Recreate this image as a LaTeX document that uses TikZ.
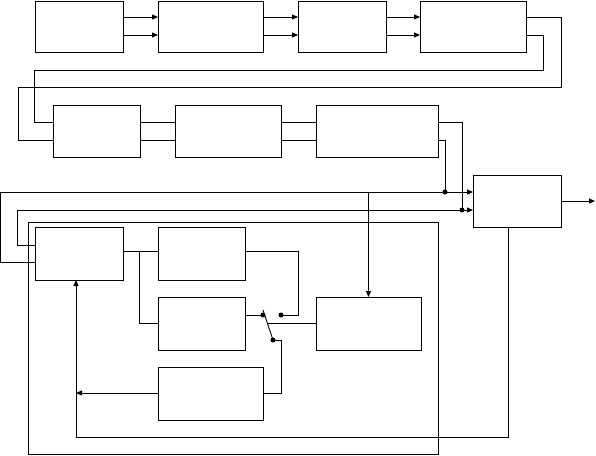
\documentclass[tikz,border=0pt]{standalone}
\usetikzlibrary{arrows.meta}
\begin{document}
\begin{tikzpicture}[x=1pt,y=1pt,line width=0.9pt,
  blk/.style={draw,inner sep=0pt,outer sep=0pt},
  arr/.style={-{Triangle[length=6pt,width=5pt]}},
  jdot/.style={circle,fill,inner sep=0pt,minimum size=5pt}]
\useasboundingbox (0,0) rectangle (596,-455);
% boxes (center, size)
\node[blk,minimum width=88pt,minimum height=51pt] (b1) at (79,-26.5) {};
\node[blk,minimum width=105pt,minimum height=51pt] (b2) at (210.5,-26.5) {};
\node[blk,minimum width=88pt,minimum height=51pt] (b3) at (342,-26.5) {};
\node[blk,minimum width=106pt,minimum height=51pt] (b4) at (473,-26.5) {};
\node[blk,minimum width=87pt,minimum height=52pt] (b5) at (96.5,-131) {};
\node[blk,minimum width=106pt,minimum height=52pt] (b6) at (228,-131) {};
\node[blk,minimum width=122pt,minimum height=52pt] (b7) at (377,-131) {};
\node[blk,minimum width=88pt,minimum height=52pt] (b8) at (517,-201) {};
\node[blk,minimum width=88pt,minimum height=53pt] (b9) at (79,-253.5) {};
\node[blk,minimum width=87pt,minimum height=53pt] (b10) at (201.5,-253.5) {};
\node[blk,minimum width=87pt,minimum height=53pt] (b11) at (201.5,-323.5) {};
\node[blk,minimum width=105pt,minimum height=53pt] (b12) at (368.5,-323.5) {};
\node[blk,minimum width=105pt,minimum height=53pt] (b13) at (210.5,-393.5) {};
% frame
\draw (28,-222) rectangle (438,-454);
% top row
\foreach \a/\b in {b1/b2,b2/b3,b3/b4}{
  \draw[arr] (\a.east |- 0,-17) -- (\b.west |- 0,-17);
  \draw[arr] (\a.east |- 0,-35) -- (\b.west |- 0,-35);
}
% b4 -> b5
\draw (b4.east |- 0,-17) -- (561,-17) -- (561,-87) -- (18,-87) -- (18,-140) -- (b5.west |- 0,-140);
\draw (b4.east |- 0,-35) -- (543,-35) -- (543,-70) -- (34,-70) -- (34,-122) -- (b5.west |- 0,-122);
% row 2
\foreach \a/\b in {b5/b6,b6/b7}{
  \draw (\a.east |- 0,-122) -- (\b.west |- 0,-122);
  \draw (\a.east |- 0,-140) -- (\b.west |- 0,-140);
}
\coordinate (j1) at (445,-192);
\coordinate (j2) at (462,-210);
\draw (b7.east |- 0,-122) -- (462,-122) -- (j2);
\draw (b7.east |- 0,-140) -- (445,-140) -- (j1);
% long lines into b8
\draw[arr] (b9.west |- 0,-262) -- (0,-262) -- (0,-192) -- (b8.west |- 0,-192);
\draw[arr] (b9.west |- 0,-245) -- (17,-245) -- (17,-210) -- (b8.west |- 0,-210);
\node[jdot] at (j1) {};
\node[jdot] at (j2) {};
\draw[arr] (368.5,-192) -- (b12.north);
% b8 output and feedback
\coordinate (out) at (595,-201);
\draw[arr] (b8.east) -- (out);
\draw[arr] (b8.south -| 508,0) -- (508,-437) -- (76,-437) -- (b9.south -| 76,0);
% inner
\draw (b9.east |- 0,-251) -- (b10.west |- 0,-251);
\draw (139,-251) -- (139,-323) -- (b11.west |- 0,-323);
\coordinate (s1) at (263,-315);
\coordinate (s2) at (281,-315);
\coordinate (s3) at (273,-340);
\draw (b10.east |- 0,-251) -- (298,-251) -- (298,-315) -- (s2);
\draw (b11.east |- 0,-315) -- (s1);
\draw (263,-310) -- (s3);
\draw (267,-323) -- (b12.west |- 0,-323);
\draw (s3) -- (281,-340) -- (281,-393) -- (b13.east |- 0,-393);
\draw[arr] (b13.west |- 0,-393) -- (76,-393);
\node[jdot] at (s1) {};
\node[jdot] at (s2) {};
\node[jdot] at (s3) {};
\end{tikzpicture}
\end{document}
